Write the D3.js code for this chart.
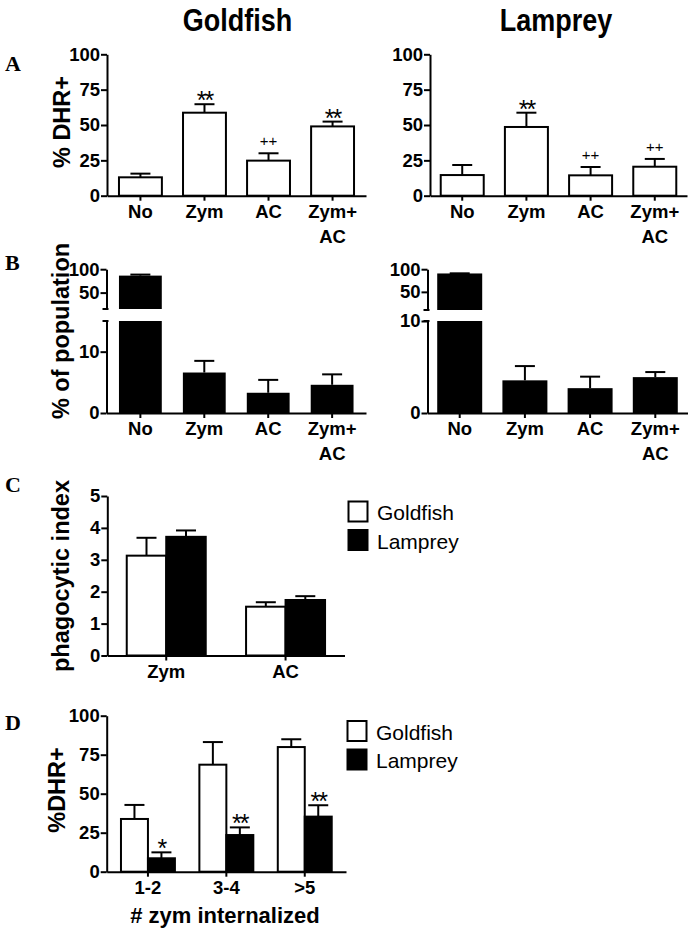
<!DOCTYPE html>
<html><head><meta charset="utf-8">
<script src="https://cdn.jsdelivr.net/npm/d3@7"></script>
<style>
body{margin:0;background:#fff;}
svg{display:block;}
text{font-family:"Liberation Sans",Arial,sans-serif;fill:#000;}
</style></head>
<body>
<script>
// ---------- data ----------
const titles = ["Goldfish", "Lamprey"];
const conditionCats = ["No", "Zym", "AC", "Zym+ AC"];
// Panel A: % DHR+
const goldfishDHR = [13.0, 58.7, 24.8, 49.0];
const goldfishDHRErr = [2.6, 6.0, 5.2, 3.4];
const goldfishDHRSig = ["", "**", "++", "**"];
const lampreyDHR = [14.6, 48.6, 14.4, 20.5];
const lampreyDHRErr = [7.1, 10.1, 5.9, 5.5];
const lampreyDHRSig = ["", "**", "++", "++"];
const dhrTicks = [0, 25, 50, 75, 100];
// Panel B: % of population (broken axis)
const goldfishPop = [86.3, 6.6, 3.3, 4.6];
const goldfishPopErr = [2.2, 1.9, 2.1, 1.7];
const lampreyPop = [90.6, 3.55, 2.7, 3.9];
const lampreyPopErr = [0.3, 1.55, 1.25, 0.55];
const popLowerTicks = [0, 10];
const popUpperTicks = [50, 100];
// Panel C: phagocytic index
const piCats = ["Zym", "AC"];
const series = ["Goldfish", "Lamprey"];
const goldfishPI = [3.13, 1.53];
const goldfishPIErr = [0.56, 0.14];
const lampreyPI = [3.72, 1.74];
const lampreyPIErr = [0.20, 0.12];
const piTicks = [0, 1, 2, 3, 4, 5];
// Panel D: %DHR+ by # zym internalized
const zymCats = ["1-2", "3-4", ">5"];
const goldfishZ = [33.8, 68.6, 79.9];
const goldfishZErr = [9.0, 14.5, 5.0];
const lampreyZ = [8.6, 23.5, 35.3];
const lampreyZErr = [3.8, 4.9, 7.3];
const lampreyZSig = ["*", "**", "**"];

// ---------- setup ----------
const W = 691, H = 933;
const svg = d3.select("body").append("svg").attr("width", W).attr("height", H);
const fills = {Goldfish: "#fff", Lamprey: "#000"};

function styleAxis(g, fs) {
  g.attr("font-family", null).attr("font-size", null);
  g.selectAll("path.domain").attr("stroke", "#000").attr("stroke-width", 2);
  g.selectAll(".tick line").attr("stroke", "#000").attr("stroke-width", 2);
  g.selectAll(".tick text")
    .attr("font-weight", "bold").attr("font-size", fs).attr("fill", "#000");
}
function leftAxis(x, scale, ticks) {
  const g = svg.append("g").attr("transform", `translate(${x},0)`)
    .call(d3.axisLeft(scale).tickValues(ticks).tickFormat(d3.format("d")).tickSize(6).tickSizeOuter(0).tickPadding(1));
  styleAxis(g, 18.5);
  return g;
}
function bottomAxis(y, scale) {
  const g = svg.append("g").attr("transform", `translate(0,${y})`)
    .call(d3.axisBottom(scale).tickSize(5).tickSizeOuter(0).tickPadding(4));
  styleAxis(g, 18.5);
  g.selectAll(".tick text").each(function(d) {
    const parts = String(d).split(" ");
    if (parts.length > 1) {
      const t = d3.select(this); t.text(null);
      parts.forEach((p, i) => t.append("tspan").attr("x", 0).attr("dy", i === 0 ? "0.71em" : "1.35em").text(p));
      t.attr("dy", null);
    }
  });
  return g;
}
function errBar(cx, yTop, yVal) {
  svg.append("line").attr("x1", cx).attr("x2", cx).attr("y1", yVal).attr("y2", yTop)
    .attr("stroke", "#000").attr("stroke-width", 2);
  svg.append("line").attr("x1", cx - 10).attr("x2", cx + 10).attr("y1", yTop).attr("y2", yTop)
    .attr("stroke", "#000").attr("stroke-width", 2);
}
function sig(cx, yTop, s) {
  if (!s) return;
  const plus = s.indexOf("+") >= 0;
  svg.append("text").attr("x", cx).attr("y", plus ? yTop - 7 : yTop + 5)
    .attr("text-anchor", "middle").attr("font-size", plus ? 15 : 25)
    .attr("letter-spacing", plus ? 0 : -2).text(s);
}
function yTitle(x, y, txt) {
  svg.append("text").attr("transform", `translate(${x},${y}) rotate(-90)`)
    .attr("text-anchor", "middle").attr("font-weight", "bold").attr("font-size", 23.5).text(txt);
}
function panelLetter(y, l) {
  svg.append("text").attr("x", 5).attr("y", y)
    .style("font-family", "'Liberation Serif','Times New Roman',serif")
    .attr("font-weight", "bold").attr("font-size", 22).text(l);
}

// titles
[[titles[0], 237.5], [titles[1], 556]].forEach(([t, cx]) => {
  svg.append("text").attr("transform", `translate(${cx},31) scale(1,1.15)`)
    .attr("text-anchor", "middle").attr("font-weight", "bold").attr("font-size", 27).text(t);
});

// ---------- Panel A ----------
const yA = d3.scaleLinear().domain([0, 100]).range([195.7, 54.3]);
const panelA = [
  {ax: 107, r1: 366, po: 0.187, vals: goldfishDHR, errs: goldfishDHRErr, sigs: goldfishDHRSig},
  {ax: 430, r1: 687, po: 0.167, vals: lampreyDHR, errs: lampreyDHRErr, sigs: lampreyDHRSig}
];
panelA.forEach(p => {
  const x = d3.scaleBand().domain(conditionCats).range([p.ax, p.r1]).paddingInner(0.33).paddingOuter(p.po);
  conditionCats.forEach((c, i) => {
    const cx = x(c) + x.bandwidth() / 2;
    errBar(cx, yA(p.vals[i] + p.errs[i]), yA(p.vals[i]));
    svg.append("rect").attr("x", x(c)).attr("y", yA(p.vals[i])).attr("width", x.bandwidth())
      .attr("height", yA(0) - yA(p.vals[i])).attr("fill", "#fff").attr("stroke", "#000").attr("stroke-width", 2);
    sig(cx, yA(p.vals[i] + p.errs[i]), p.sigs[i]);
  });
  leftAxis(p.ax, yA, dhrTicks);
  bottomAxis(yA(0), x);
});
yTitle(70, 122, "% DHR+");
panelLetter(71, "A");

// ---------- Panel B ----------
const panelB = [
  {ax: 106.5, r1: 366, pi: 0.33, po: 0.195, lowMax: 15, upMin: 15, upBottom: 309, vals: goldfishPop, errs: goldfishPopErr},
  {ax: 427.5, r1: 687.5, pi: 0.31, po: 0.149, lowMax: 10, upMin: 10, upBottom: 310, vals: lampreyPop, errs: lampreyPopErr}
];
panelB.forEach(p => {
  const x = d3.scaleBand().domain(conditionCats).range([p.ax, p.r1]).paddingInner(p.pi).paddingOuter(p.po);
  const yL = d3.scaleLinear().domain([0, p.lowMax]).range([413, 321]);
  const yU = d3.scaleLinear().domain([p.upMin, 100]).range([p.upBottom, 269.2]);
  conditionCats.forEach((c, i) => {
    const v = p.vals[i], e = p.errs[i];
    const cx = x(c) + x.bandwidth() / 2;
    if (v > p.lowMax) {
      svg.append("rect").attr("x", x(c)).attr("y", yL(p.lowMax)).attr("width", x.bandwidth())
        .attr("height", yL(0) - yL(p.lowMax)).attr("fill", "#000");
      errBar(cx, yU(v + e), yU(v));
      svg.append("rect").attr("x", x(c)).attr("y", yU(v)).attr("width", x.bandwidth())
        .attr("height", yU(p.upMin) - yU(v)).attr("fill", "#000");
    } else {
      errBar(cx, yL(v + e), yL(v));
      svg.append("rect").attr("x", x(c)).attr("y", yL(v)).attr("width", x.bandwidth())
        .attr("height", yL(0) - yL(v)).attr("fill", "#000");
    }
  });
  leftAxis(p.ax, yL, popLowerTicks);
  leftAxis(p.ax, yU, popUpperTicks);
  // break caps
  [yL(p.lowMax), yU(p.upMin)].forEach(yy => {
    svg.append("line").attr("x1", p.ax - 4).attr("x2", p.ax + 2).attr("y1", yy).attr("y2", yy)
      .attr("stroke", "#000").attr("stroke-width", 2);
  });
  bottomAxis(yL(0), x);
});
yTitle(69, 331, "% of population");
panelLetter(270, "B");

// ---------- Panel C ----------
const yC = d3.scaleLinear().domain([0, 5]).range([655.5, 496]);
const xC = d3.scaleBand().domain(piCats).range([107.3, 344.5]).paddingInner(0.338).paddingOuter(0.163);
const xCs = d3.scaleBand().domain(series).range([0, xC.bandwidth()]);
const piData = {Goldfish: [goldfishPI, goldfishPIErr], Lamprey: [lampreyPI, lampreyPIErr]};
piCats.forEach((c, i) => {
  series.forEach(s => {
    const v = piData[s][0][i], e = piData[s][1][i];
    const bx = xC(c) + xCs(s);
    errBar(bx + xCs.bandwidth() / 2, yC(v + e), yC(v));
    svg.append("rect").attr("x", bx).attr("y", yC(v)).attr("width", xCs.bandwidth())
      .attr("height", yC(0) - yC(v)).attr("fill", fills[s]).attr("stroke", "#000").attr("stroke-width", 2);
  });
});
leftAxis(107.3, yC, piTicks);
bottomAxis(yC(0), xC);
yTitle(69, 576, "phagocytic index");
panelLetter(492, "C");

function legend(x, y) {
  series.forEach((s, i) => {
    svg.append("rect").attr("x", x).attr("y", y + i * 28.5).attr("width", 19).attr("height", 20)
      .attr("fill", fills[s]).attr("stroke", "#000").attr("stroke-width", 2);
    svg.append("text").attr("x", x + 28.5).attr("y", y + 18.5 + i * 28.5).attr("font-size", 21).text(s);
  });
}
legend(348.5, 501.5);

// ---------- Panel D ----------
const yD = d3.scaleLinear().domain([0, 100]).range([871.7, 715.7]);
const xD = d3.scaleBand().domain(zymCats).range([106.7, 346]).paddingInner(0.312).paddingOuter(0.182);
const xDs = d3.scaleBand().domain(series).range([0, xD.bandwidth()]);
const zData = {Goldfish: [goldfishZ, goldfishZErr], Lamprey: [lampreyZ, lampreyZErr]};
zymCats.forEach((c, i) => {
  series.forEach(s => {
    const v = zData[s][0][i], e = zData[s][1][i];
    const bx = xD(c) + xDs(s);
    const cx = bx + xDs.bandwidth() / 2;
    errBar(cx, yD(v + e), yD(v));
    svg.append("rect").attr("x", bx).attr("y", yD(v)).attr("width", xDs.bandwidth())
      .attr("height", yD(0) - yD(v)).attr("fill", fills[s]).attr("stroke", "#000").attr("stroke-width", 2);
    if (s === "Lamprey") sig(cx, yD(v + e), lampreyZSig[i]);
  });
});
leftAxis(106.7, yD, dhrTicks);
bottomAxis(yD(0), xD);
yTitle(65, 790, "%DHR+");
svg.append("text").attr("x", 225).attr("y", 923).attr("text-anchor", "middle")
  .attr("font-weight", "bold").attr("font-size", 22).text("# zym internalized");
panelLetter(730, "D");
legend(347.5, 721);
</script>
</body></html>
